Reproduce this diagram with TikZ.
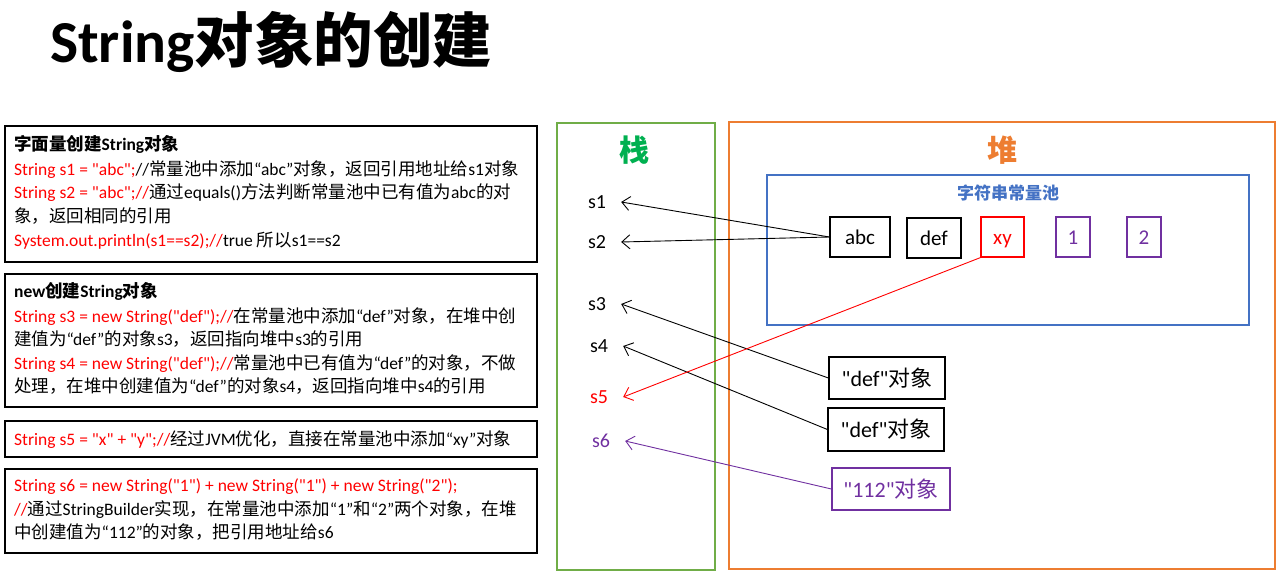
\documentclass[tikz,border=0pt]{standalone}
\usepackage{fontspec}
\setmainfont{Carlito}
\newfontfamily\latfont{Carlito}
\newfontfamily\cjkfont{Noto Sans CJK SC}
\usetikzlibrary{arrows.meta}
\XeTeXinterchartokenstate=1
\newcount\mycc
\def\setclassrange#1#2#3{\mycc=#1 \loop \XeTeXcharclass\mycc=#3 \ifnum\mycc<#2 \advance\mycc by 1 \repeat}
\setclassrange{"0020}{"02FF}{0}
\setclassrange{"2000}{"206F}{0}
\setclassrange{"3000}{"303F}{7}
\setclassrange{"4E00}{"9FFF}{7}
\setclassrange{"FF00}{"FFEF}{7}
\XeTeXinterchartoks 0 7 = {\cjkfont}
\XeTeXinterchartoks 7 0 = {\latfont}
\XeTeXinterchartoks 4095 7 = {\cjkfont}
\XeTeXinterchartoks 4095 0 = {\latfont}
\definecolor{jred}{HTML}{FF0000}
\definecolor{jpurple}{HTML}{7030A0}
\definecolor{sgreen}{HTML}{70AD47}
\definecolor{tgreen}{HTML}{00B050}
\definecolor{horange}{HTML}{ED7D31}
\definecolor{pblue}{HTML}{4472C4}
\newcommand\redtxt[1]{\textcolor{jred}{#1}}
\begin{document}
\begin{tikzpicture}[x=1pt,y=-1pt,
  lbox/.style={draw=black, line width=1.3pt, minimum width=532pt, inner sep=0pt},
  code/.style={font=\fontsize{17.5}{20}\selectfont, anchor=base west, inner sep=0pt},
  codehead/.style={code, font=\bfseries\fontsize{17.5}{20}\selectfont},
  var/.style={font=\fontsize{20}{20}\selectfont, inner sep=0pt},
  pbox/.style={draw, line width=1.2pt, minimum height=40pt, inner sep=0pt, text height=15pt, text depth=0pt, font=\fontsize{21}{21}\selectfont},
  obj/.style={draw, line width=1.2pt, inner sep=0pt, font=\fontsize{22}{22}\selectfont},
  arr/.style={-{Straight Barb[length=8pt,width=14pt]}, line width=0.9pt}]
\useasboundingbox (0,0) rectangle (1282,577);
% title
\node[font=\bfseries\fontsize{59.5}{60}\selectfont, anchor=west, inner sep=0pt] (title) at (50,42) {String对象的创建};
% left boxes
\node[lbox, minimum height=136pt] (b1) at (271,194) {};
\node[lbox, minimum height=133pt] (b2) at (271,340.5) {};
\node[lbox, minimum height=36pt] (b3) at (271,439) {};
\node[lbox, minimum height=84pt] (b4) at (271,511) {};
\node[codehead] (h1) at (14,151) {字面量创建String对象};
\node[code] (l11) at (14,175.5) {\redtxt{String s1 = "abc";}//常量池中添加“abc”对象，返回引用地址给s1对象};
\node[code] (l12) at (14,199) {\redtxt{String s2 = "abc";//}通过equals()方法判断常量池中已有值为abc的对};
\node[code] (l13) at (14,222.5) {象，返回相同的引用};
\node[code] (l14) at (14,246.5) {\redtxt{System.out.println(s1==s2);//}true 所以s1==s2};
\node[codehead] (h2) at (14,298) {new创建String对象};
\node[code] (l21) at (14,322) {\redtxt{String s3 = new String("def");//}在常量池中添加“def”对象，在堆中创};
\node[code] (l22) at (14,345.5) {建值为“def”的对象s3，返回指向堆中s3的引用};
\node[code] (l23) at (14,369.5) {\redtxt{String s4 = new String("def");//}常量池中已有值为“def”的对象，不做};
\node[code] (l24) at (14,392.5) {处理，在堆中创建值为“def”的对象s4，返回指向堆中s4的引用};
\node[code] (l31) at (14,445) {\redtxt{String s5 = "x" + "y";//}经过JVM优化，直接在常量池中添加“xy”对象};
\node[code] (l41) at (14,491.5) {\redtxt{String s6 = new String("1") + new String("1") + new String("2");}};
\node[code] (l42) at (14,515) {\redtxt{//}通过StringBuilder实现，在常量池中添加“1”和“2”两个对象，在堆};
\node[code] (l43) at (14,538.5) {中创建值为“112”的对象，把引用地址给s6};
% stack and heap
\node[draw=sgreen, line width=1.2pt, minimum width=158pt, minimum height=447pt, inner sep=0pt] (stack) at (636,346.5) {};
\node[draw=horange, line width=1.2pt, minimum width=546pt, minimum height=447pt, inner sep=0pt] (heap) at (1002,345.5) {};
\node[draw=pblue, line width=1.2pt, minimum width=482pt, minimum height=150pt, inner sep=0pt] (pool) at (1008,250) {};
\node[font=\bfseries\fontsize{30}{30}\selectfont, text=tgreen, inner sep=0pt] (stacklbl) at (634,150) {栈};
\node[font=\bfseries\fontsize{30}{30}\selectfont, text=horange, inner sep=0pt] (heaplbl) at (1002,150) {堆};
\node[font=\bfseries\fontsize{17}{17}\selectfont, text=pblue, inner sep=0pt] (poollbl) at (1008,193) {字符串常量池};
% stack variables
\node[var] (s1) at (597,202) {s1};
\node[var] (s2) at (597,242) {s2};
\node[var] (s3) at (597,304) {s3};
\node[var] (s4) at (599,346) {s4};
\node[var, text=jred] (s5) at (599,397) {s5};
\node[var, text=jpurple] (s6) at (601,441) {s6};
% pool entries
\node[pbox, minimum width=60pt] (abc) at (860,237) {abc};
\node[pbox, minimum width=54pt] (def) at (934,238) {def};
\node[pbox, minimum width=43pt, draw=jred, text=jred] (xy) at (1002.5,237) {xy};
\node[pbox, minimum width=34pt, draw=jpurple, text=jpurple] (one) at (1073,237) {1};
\node[pbox, minimum width=34pt, draw=jpurple, text=jpurple] (two) at (1144,237) {2};
% heap objects
\node[obj, minimum width=116pt, minimum height=42pt] (o3) at (887,378) {"def"对象};
\node[obj, minimum width=116pt, minimum height=43pt] (o4) at (886,429.5) {"def"对象};
\node[obj, minimum width=118pt, minimum height=42pt, draw=jpurple, text=jpurple] (o6) at (891,489) {"112"对象};
% references
\draw[arr] (abc.west) -- ([xshift=15pt]s1.east);
\draw[arr] (abc.west) -- ([xshift=15pt]s2.east);
\draw[arr] (o3.west) -- ([xshift=15pt]s3.east);
\draw[arr] (o4.west) -- ([xshift=15pt]s4.east);
\draw[arr, draw=jred] (xy.south west) -- ([xshift=15pt]s5.east);
\draw[arr, draw=jpurple] (o6.west) -- ([xshift=15pt]s6.east);
\end{tikzpicture}
\end{document}
